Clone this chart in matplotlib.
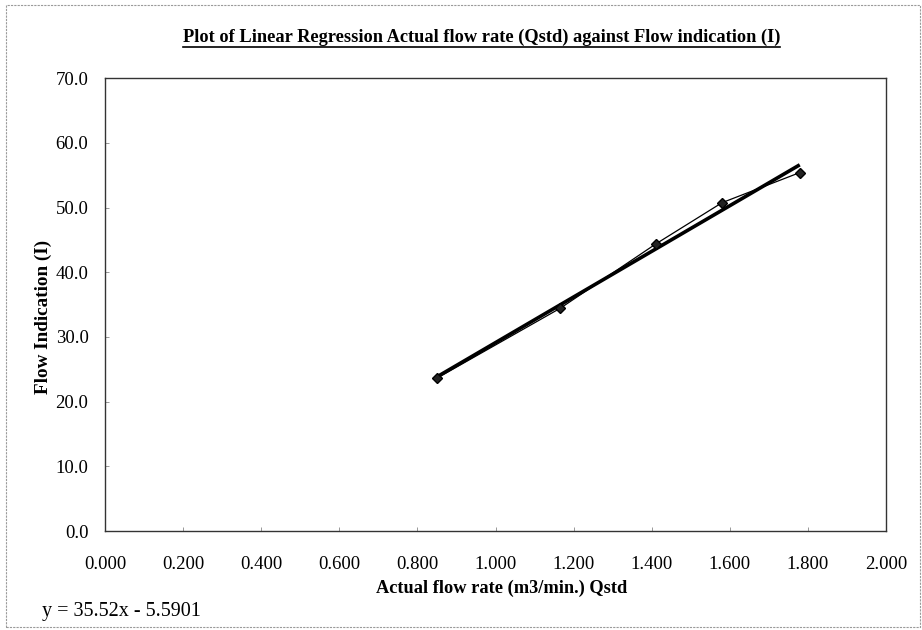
import numpy as np
import matplotlib
matplotlib.use("Agg")
import matplotlib.pyplot as plt
from matplotlib.patches import Rectangle

# Data
qstd = [0.849, 1.166, 1.411, 1.580, 1.779]        # Actual flow rate (m3/min.)
flow_ind = [23.6, 34.45, 44.4, 50.75, 55.4]        # Flow indication (I)
equation_text = "y = 35.52x - 5.5901"
x_ticks = [0.0, 0.2, 0.4, 0.6, 0.8, 1.0, 1.2, 1.4, 1.6, 1.8, 2.0]
y_ticks = [0, 10, 20, 30, 40, 50, 60, 70]

plt.rcParams['font.family'] = ['Liberation Serif', 'DejaVu Serif']

fig = plt.figure(figsize=(9.22, 6.30), dpi=100)
ax = fig.add_axes([0.114, 0.157, 0.847, 0.719])

# Outer chart-area border
fig.patches.append(Rectangle((0.006, 0.005), 0.992, 0.987, transform=fig.transFigure,
                             fill=False, edgecolor='#9a9a9a', lw=0.8, linestyle=(0, (2, 1))))

# Linear regression (trendline)
coef = np.polyfit(qstd, flow_ind, 1)
xr = np.array([min(qstd), max(qstd)])
ax.plot(xr, np.polyval(coef, xr), color='black', lw=2.6, solid_capstyle='butt', zorder=2)

# Data series
ax.plot(qstd, flow_ind, color='black', lw=0.9, marker='D', markersize=5.5,
        markerfacecolor='#222222', markeredgecolor='black', zorder=3)

ax.set_xlim(0, 2.0)
ax.set_ylim(0, 70)
ax.set_xticks(x_ticks)
ax.set_yticks(y_ticks)
ax.set_xticklabels([f"{v:.3f}" for v in x_ticks])
ax.set_yticklabels([f"{v:.1f}" for v in y_ticks])
ax.tick_params(direction='in', length=3, width=0.6, color='#888888', labelsize=13.5)
ax.tick_params(axis='x', pad=18)
ax.tick_params(axis='y', pad=12)
for s in ax.spines.values():
    s.set_linewidth(1.0)
    s.set_color('#333333')

ax.set_xlabel("Actual flow rate (m3/min.) Qstd", fontsize=13.2, fontweight='bold')
ax.xaxis.set_label_coords(0.508, -0.108)
ax.set_ylabel("Flow Indication (I)", fontsize=13.8, fontweight='bold')
ax.yaxis.set_label_coords(-0.068, 0.472)

fig.text(0.522, 0.940, "Plot of Linear Regression Actual flow rate (Qstd) against Flow indication (I)",
         ha='center', va='center', fontsize=13.2, fontweight='bold')
# underline for title
fig.add_artist(plt.Line2D([0.199, 0.846], [0.926, 0.926], transform=fig.transFigure,
                          color='black', lw=1.2))

fig.text(0.046, 0.030, equation_text, ha='left', va='center', fontsize=14.5)

fig.savefig("out.png", dpi=100)
